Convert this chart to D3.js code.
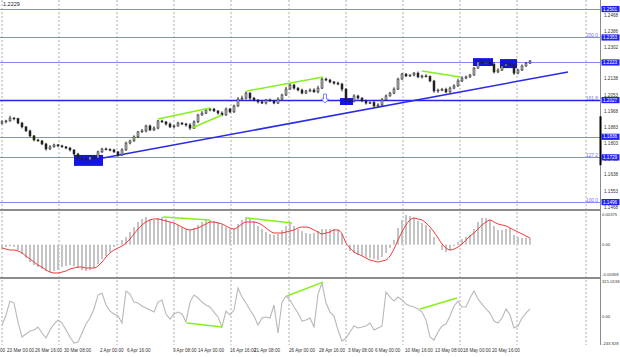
<!DOCTYPE html>
<html><head><meta charset="utf-8">
<script src="https://cdn.jsdelivr.net/npm/d3@7"></script>
<style>body{margin:0;background:#fff}svg{display:block}text{font-family:"Liberation Sans",Arial,sans-serif}</style>
</head><body><svg id="c" width="620" height="357"></svg>
<script>
const firstOpen = 1.1905;
const closes = [
1.1913,1.1918,1.1933,1.1930,1.1907,1.1887,1.1866,1.1840,1.1819,1.1814,
1.1798,1.1772,1.1783,1.1793,1.1788,1.1783,1.1777,1.1767,1.1746,1.1725,
1.1720,1.1715,1.1731,1.1725,1.1757,1.1772,1.1770,1.1767,1.1757,1.1741,
1.1767,1.1803,1.1814,1.1835,1.1861,1.1866,1.1892,1.1871,1.1881,1.1918,
1.1913,1.1902,1.1887,1.1892,1.1907,1.1902,1.1897,1.1881,1.1913,1.1949,
1.1959,1.1975,1.1980,1.1970,1.1959,1.1949,1.1980,1.1965,1.1996,1.2032,
1.2037,1.2063,1.2037,1.2027,1.2017,1.2011,1.2027,1.2022,1.2011,1.2032,
1.2053,1.2084,1.2105,1.2089,1.2079,1.2063,1.2074,1.2079,1.2069,1.2089,
1.2136,1.2131,1.2121,1.2115,1.2110,1.2084,1.2027,1.2022,1.2048,1.2037,
1.2022,1.2011,1.2014,1.1996,1.2001,1.2027,1.2048,1.2063,1.2084,1.2136,
1.2162,1.2152,1.2157,1.2167,1.2147,1.2152,1.2150,1.2126,1.2074,1.2079,
1.2081,1.2069,1.2089,1.2100,1.2126,1.2141,1.2147,1.2157,1.2193,1.2225,
1.2219,1.2221,1.2214,1.2173,1.2183,1.2204,1.2214,1.2209,1.2167,1.2183,
1.2204,1.2219,1.2230];
const wickUp = [
8,6,12,5,4,6,4,7,5,6, 4,6,9,7,5,6,4,5,3,6, 8,5,9,4,7,6,8,5,6,4,
9,7,6,8,5,10,6,7,9,5, 6,4,8,6,7,5,6,9,8,6, 10,7,5,6,4,9,8,6,7,10,
12,9,5,6,4,7,6,8,5,9, 7,11,10,6,5,7,6,8,9,12, 10,7,6,5,8,6,4,7,9,6,
5,7,6,8,9,11,8,6,9,7, 6,5,4,6,8,7,9,5,6,7, 9,10,8,9,12,10,7,6,5,9,
8,6,7,10,9,6,8,7,5,6, 8,6,5];
const wickDn = [
5,7,4,9,6,8,5,6,7,4, 6,8,5,4,7,5,6,8,9,7, 10,6,5,8,4,6,5,7,6,9,
6,5,7,4,6,5,8,6,5,7, 5,8,6,7,4,6,9,10,5,6, 4,6,7,5,8,6,4,7,5,6,
5,7,9,6,8,5,7,4,6,5, 6,5,4,8,7,6,5,6,4,7, 5,6,7,8,6,12,9,6,8,7,
6,8,5,9,7,6,5,4,6,5, 4,6,5,7,6,8,5,6,9,10, 6,7,5,6,4,5,6,5,4,3,
5,6,4,8,6,5,4,6,9,6, 5,4,5];
const macdHist = [
-0.00040,-0.00028,-0.00016,-0.00028,-0.00065,-0.00114,-0.00163,-0.00211,-0.00248,-0.00273,
-0.00297,-0.00321,-0.00334,-0.00321,-0.00309,-0.00273,-0.00260,-0.00248,-0.00260,-0.00285,
-0.00309,-0.00321,-0.00309,-0.00285,-0.00236,-0.00175,-0.00138,-0.00089,-0.00028,0.00009,
0.00057,0.00094,0.00155,0.00216,0.00277,0.00314,0.00338,0.00314,0.00302,0.00326,
0.00338,0.00314,0.00277,0.00265,0.00241,0.00216,0.00192,0.00180,0.00204,0.00241,
0.00277,0.00302,0.00302,0.00290,0.00277,0.00241,0.00216,0.00192,0.00192,0.00253,
0.00302,0.00338,0.00326,0.00290,0.00229,0.00192,0.00155,0.00131,0.00119,0.00131,
0.00180,0.00229,0.00265,0.00229,0.00192,0.00167,0.00143,0.00131,0.00143,0.00167,
0.00192,0.00192,0.00192,0.00192,0.00180,0.00131,-0.00004,-0.00077,-0.00101,-0.00126,
-0.00138,-0.00150,-0.00163,-0.00175,-0.00187,-0.00150,-0.00101,-0.00040,0.00057,0.00204,
0.00302,0.00363,0.00351,0.00326,0.00290,0.00265,0.00241,0.00192,0.00094,-0.00004,
-0.00065,-0.00089,-0.00065,-0.00016,0.00033,0.00070,0.00094,0.00119,0.00192,0.00277,
0.00326,0.00326,0.00302,0.00229,0.00180,0.00180,0.00192,0.00204,0.00119,0.00094,
0.00082,0.00082,0.00082];
const macdSignal = [
-0.00040,-0.00053,-0.00065,-0.00065,-0.00077,-0.00101,-0.00138,-0.00175,-0.00211,-0.00248,
-0.00273,-0.00309,-0.00334,-0.00346,-0.00346,-0.00334,-0.00321,-0.00297,-0.00285,-0.00273,
-0.00273,-0.00285,-0.00285,-0.00285,-0.00260,-0.00211,-0.00150,-0.00101,-0.00065,-0.00040,
-0.00016,0.00021,0.00070,0.00131,0.00192,0.00241,0.00277,0.00302,0.00314,0.00314,
0.00302,0.00290,0.00277,0.00265,0.00241,0.00216,0.00192,0.00180,0.00192,0.00204,
0.00229,0.00253,0.00277,0.00277,0.00265,0.00253,0.00229,0.00204,0.00192,0.00216,
0.00253,0.00277,0.00277,0.00277,0.00265,0.00241,0.00204,0.00167,0.00143,0.00143,
0.00143,0.00155,0.00167,0.00180,0.00204,0.00216,0.00216,0.00204,0.00180,0.00155,
0.00131,0.00143,0.00155,0.00180,0.00180,0.00131,0.00021,-0.00040,-0.00089,-0.00114,
-0.00138,-0.00163,-0.00187,-0.00199,-0.00211,-0.00199,-0.00187,-0.00138,-0.00053,0.00057,
0.00155,0.00241,0.00302,0.00326,0.00314,0.00302,0.00265,0.00216,0.00155,0.00082,
0.00009,-0.00040,-0.00065,-0.00053,-0.00028,0.00009,0.00057,0.00106,0.00143,0.00192,
0.00241,0.00277,0.00302,0.00277,0.00253,0.00241,0.00229,0.00204,0.00180,0.00155,
0.00131,0.00106,0.00082];
const cci = [
-80,11,138,120,-53,-189,-162,-135,-126,-98,
-153,-199,-126,-71,-35,-62,-126,-189,-244,-235,
-153,-71,-16,66,193,211,102,47,20,2,
-62,230,202,129,120,93,75,56,38,129,
148,20,-26,20,38,20,-53,129,193,166,
129,102,84,38,-7,-98,47,11,56,257,
175,120,56,2,-80,-16,-7,-16,102,-153,
129,184,148,84,29,-44,-35,-16,-98,202,
302,120,38,2,-126,-226,-199,-144,-89,-107,
-98,-89,-62,-126,-107,-89,220,175,138,175,
148,111,93,84,66,38,-35,-189,-217,-144,
-89,-71,2,93,138,84,84,166,230,157,
111,66,29,-44,-62,-16,66,11,-107,-89,
-16,29,66];
const priceTicks = [1.2468,1.2386,1.2302,1.2138,1.2053,1.1968,1.1883,1.1803,1.1718,1.1638,1.1553,1.1468];
const levels = [1.2501,1.2353,1.2223,1.2027,1.1836,1.1729,1.1496];
const mainLevel = 1.2027;
const fibPrices = [1.2353,1.2027,1.1729,1.1496];
const fibTexts = ["200.0","161.8","127.2","100.0"];
const macdTickVals = [0.00375,0,-0.00358];
const macdTickTexts = ["0.00375","0.00","-0.00358"];
const cciTickVals = [321.0138,0,-243.928];
const cciTickTexts = ["321.0138","0.00","-243.928"];
const dateTexts = ["19 Mar 08:00","23 Mar 00:00","26 Mar 16:00","30 Mar 08:00","2 Apr 00:00","6 Apr 16:00","9 Apr 08:00","14 Apr 00:00","16 Apr 16:00","21 Apr 08:00","26 Apr 00:00","28 Apr 16:00","3 May 08:00","6 May 00:00","10 May 16:00","13 May 08:00","18 May 00:00","20 May 16:00"];
const dateBars = [-6,1.25,8.25,15.5,24.5,31.25,42.75,49,57,63,71.75,79.25,86.5,93.25,100.75,108.25,115.25,122.5];
const gridBars = [0,14.25,28.75,43,57.25,71.75,86,100.25,114.5,128.75,146];
const trendLine = [[25.25,1.1725],[141.5,1.2173]];
const greenPrice = [[[39,1.1928],[52,1.1985]],[[47.5,1.1881],[55,1.1949]],[[61.25,1.2074],[80.25,1.2147]],[[105,1.2178],[114.5,1.2147]]];
const greenMacd = [[[40.25,0.00338],[52,0.00302]],[[61.25,0.00326],[72.5,0.00265]]];
const greenCci = [[[46.25,-62],[55,-98]],[[71.25,184],[80.25,311]],[[104.5,66],[113.75,166]]];
const boxes = [[18,25.25,1.1741,1.1684],[84.5,87.75,1.2037,1.2001],[117.75,122.75,1.2245,1.2204],[124.5,128.75,1.2240,1.2193]];
const arrowAt = [80.75,1.2032];
const lastPriceText = "1.2229";

const svg = d3.select("#c");
const PR = 600;
const x = d3.scaleLinear().domain([0,132]).range([2,530]);
const yP = d3.scaleLinear().domain([1.1496,1.2027]).range([202,100]);
const yM = d3.scaleLinear().domain([-0.00358,0.00375]).range([274,214]);
const yC = d3.scaleLinear().domain([-243.928,321.0138]).range([343,281]);

const defs = svg.append("defs");
[["cm",0,209],["cmacd",211,66],["ccci",279,67]].forEach(([id,y0,h])=>{
  defs.append("clipPath").attr("id",id).append("rect").attr("x",0).attr("y",y0).attr("width",PR).attr("height",h);
});

svg.append("g").selectAll("line").data(gridBars).join("line")
  .attr("x1",d=>x(d)).attr("x2",d=>x(d)).attr("y1",0).attr("y2",345)
  .attr("stroke","#9a9a9a").attr("stroke-width",0.8).attr("stroke-dasharray","2,2");

svg.append("g").selectAll("line").data([210,278]).join("line")
  .attr("x1",0).attr("x2",PR).attr("y1",d=>d).attr("y2",d=>d)
  .attr("stroke","#8c8c8c").attr("stroke-width",2);

const gm = svg.append("g").attr("clip-path","url(#cm)");
gm.selectAll("line.lvl").data(levels).join("line").attr("class","lvl")
  .attr("x1",0).attr("x2",PR).attr("y1",d=>Math.round(yP(d))+0.5).attr("y2",d=>Math.round(yP(d))+0.5)
  .attr("stroke",d=>d===mainLevel?"#2424f0":"#8686ff").attr("stroke-width",d=>d===mainLevel?1.6:1);

gm.selectAll("rect.box").data(boxes).join("rect").attr("class","box")
  .attr("x",d=>x(d[0])).attr("width",d=>x(d[1])-x(d[0]))
  .attr("y",d=>yP(d[2])).attr("height",d=>yP(d[3])-yP(d[2]))
  .attr("fill","#1414e6");

gm.append("line").attr("x1",x(trendLine[0][0])).attr("y1",yP(trendLine[0][1]))
  .attr("x2",x(trendLine[1][0])).attr("y2",yP(trendLine[1][1]))
  .attr("stroke","#2a2ae8").attr("stroke-width",1.6);

const bars = closes.map((c,i)=>{
  const o = i===0?firstOpen:closes[i-1];
  return {i,o,c,h:Math.max(o,c)+wickUp[i]/10000,l:Math.min(o,c)-wickDn[i]/10000};
});
const gc = gm.append("g");
gc.selectAll("line").data(bars).join("line")
  .attr("x1",d=>x(d.i)).attr("x2",d=>x(d.i)).attr("y1",d=>yP(d.h)).attr("y2",d=>yP(d.l))
  .attr("stroke","#222").attr("stroke-width",1);
gc.selectAll("rect").data(bars).join("rect")
  .attr("x",d=>x(d.i)-1).attr("width",2)
  .attr("y",d=>yP(Math.max(d.o,d.c))).attr("height",d=>Math.max(0.8,Math.abs(yP(d.o)-yP(d.c))))
  .attr("fill",d=>d.c>=d.o?"#b0b0b0":"#222").attr("stroke","#222").attr("stroke-width",0.5);

gm.selectAll("line.g").data(greenPrice).join("line").attr("class","g")
  .attr("x1",d=>x(d[0][0])).attr("y1",d=>yP(d[0][1])).attr("x2",d=>x(d[1][0])).attr("y2",d=>yP(d[1][1]))
  .attr("stroke","#84f218").attr("stroke-width",1.5);

{
  const ax = x(arrowAt[0]), ay = yP(arrowAt[1]);
  const p = d3.path();
  p.moveTo(ax-1.5,ay-5); p.lineTo(ax+1.5,ay-5); p.lineTo(ax+1.5,ay); p.lineTo(ax+3.5,ay);
  p.lineTo(ax,ay+4); p.lineTo(ax-3.5,ay); p.lineTo(ax-1.5,ay); p.closePath();
  gm.append("path").attr("d",p.toString()).attr("fill","#fff").attr("stroke","#5a7cff").attr("stroke-width",0.9);
}

svg.append("text").attr("x",3).attr("y",6).attr("font-size",5.5).attr("fill","#222").text(lastPriceText);

svg.selectAll("text.fib").data(fibPrices).join("text").attr("class","fib")
  .attr("x",598).attr("y",d=>yP(d)-0.3).attr("text-anchor","end")
  .attr("font-size",4.8).attr("fill","#6f6ff5").text((d,i)=>fibTexts[i]);

const gmac = svg.append("g").attr("clip-path","url(#cmacd)");
gmac.selectAll("rect").data(macdHist).join("rect")
  .attr("x",(d,i)=>x(i)-1).attr("width",2)
  .attr("y",d=>Math.min(yM(0),yM(d))).attr("height",d=>Math.abs(yM(d)-yM(0)))
  .attr("fill","#c4c4c4");
gmac.append("path").datum(macdSignal)
  .attr("d",d3.line().x((d,i)=>x(i)).y(d=>yM(d)).curve(d3.curveMonotoneX))
  .attr("fill","none").attr("stroke","#f03c3c").attr("stroke-width",1);
gmac.selectAll("line.g").data(greenMacd).join("line").attr("class","g")
  .attr("x1",d=>x(d[0][0])).attr("y1",d=>yM(d[0][1])).attr("x2",d=>x(d[1][0])).attr("y2",d=>yM(d[1][1]))
  .attr("stroke","#84f218").attr("stroke-width",1.5);

const gcc = svg.append("g").attr("clip-path","url(#ccci)");
gcc.append("path").datum(cci)
  .attr("d",d3.line().x((d,i)=>x(i)).y(d=>yC(d)))
  .attr("fill","none").attr("stroke","#b8b8b8").attr("stroke-width",1.1);
gcc.selectAll("line.g").data(greenCci).join("line").attr("class","g")
  .attr("x1",d=>x(d[0][0])).attr("y1",d=>yC(d[0][1])).attr("x2",d=>x(d[1][0])).attr("y2",d=>yC(d[1][1]))
  .attr("stroke","#84f218").attr("stroke-width",1.5);

svg.append("line").attr("x1",PR+0.5).attr("x2",PR+0.5).attr("y1",0).attr("y2",345).attr("stroke","#8a8a8a").attr("stroke-width",1);
svg.append("line").attr("x1",PR+0.5).attr("x2",PR+0.5).attr("y1",yP(1.1968)+5).attr("y2",yP(1.1729)+8).attr("stroke","#000").attr("stroke-width",2);
const ga = svg.append("g").attr("font-size",4.6).attr("fill","#333");
ga.selectAll("text.pt").data(priceTicks).join("text").attr("class","pt")
  .attr("x",604).attr("y",d=>yP(d)+1.6).text(d=>d.toFixed(4));
ga.selectAll("rect.lb").data(levels).join("rect").attr("class","lb")
  .attr("x",601.5).attr("width",18).attr("y",d=>yP(d)-3).attr("height",6.2).attr("fill","#2222f5");
ga.selectAll("text.lb").data(levels).join("text").attr("class","lb")
  .attr("x",603).attr("y",d=>yP(d)+1.7).attr("fill","#fff").text(d=>d.toFixed(4));
ga.selectAll("text.mt").data(macdTickVals).join("text").attr("class","mt")
  .attr("x",602).attr("y",d=>yM(d)+1.6).attr("font-size",4.2).text((d,i)=>macdTickTexts[i]);
ga.selectAll("text.ct").data(cciTickVals).join("text").attr("class","ct")
  .attr("x",602).attr("y",d=>yC(d)+1.6).attr("font-size",4.2).text((d,i)=>cciTickTexts[i]);

svg.append("g").attr("font-size",4.6).attr("fill","#333")
  .style("font-family","'Liberation Sans Narrow','Liberation Sans',Arial,sans-serif")
  .selectAll("text").data(dateBars).join("text")
  .attr("x",d=>x(d)).attr("y",352).text((d,i)=>dateTexts[i]);
</script></body></html>
